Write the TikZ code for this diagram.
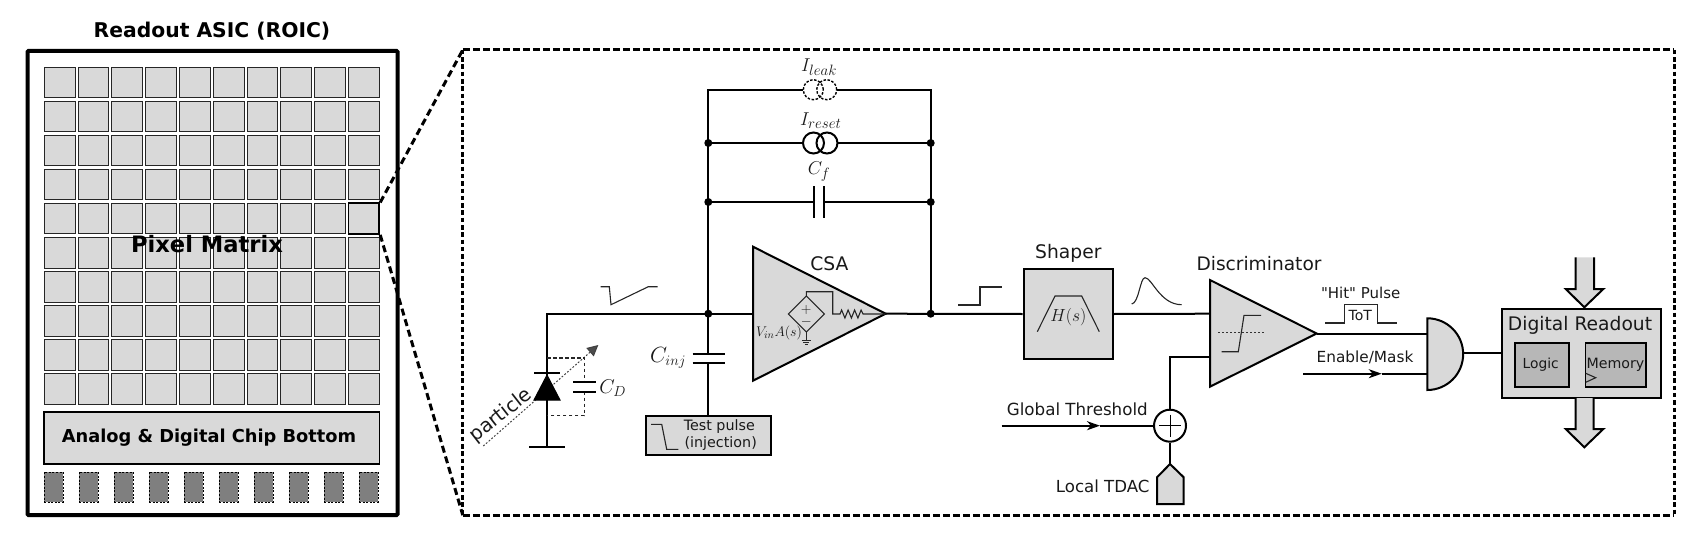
\documentclass[tikz,border=0pt]{standalone}
\usepackage{fix-cm}
\usepackage{fontspec}
\setmainfont{DejaVu Sans}[Ligatures=TeXOff]
\usetikzlibrary{arrows.meta,calc}
\DeclareMathSizes{18.6}{18.6}{15}{12}
\DeclareMathSizes{22}{22}{14.5}{12}
\DeclareMathSizes{20}{20}{14.5}{12}
\DeclareMathSizes{14}{14}{10.5}{8}
\definecolor{fillg}{HTML}{D9D9D9}
\definecolor{fillm}{HTML}{B7B7B7}
\definecolor{padg}{HTML}{7F7F7F}
\newcommand{\fsz}[1]{\fontsize{#1}{#1}\selectfont}
\tikzset{
  wire/.style={line width=2pt,line cap=butt,line join=miter},
  thinw/.style={line width=1.2pt,line join=miter},
  sig/.style={line width=1.1pt,draw=black!85,line join=miter},
  box/.style={draw=black,line width=2pt,fill=fillg,inner sep=0pt},
  inbox/.style={draw=black,line width=1.7pt,fill=fillm,inner sep=0pt},
  pixbox/.style={draw=black!85,line width=1pt,fill=fillg,minimum width=30.8pt,minimum height=30.6pt,inner sep=0pt},
  padbox/.style={draw=black,line width=.9pt,dash pattern=on 2pt off 1.6pt,fill=padg,minimum width=19pt,minimum height=30pt,inner sep=0pt},
  jun/.style={circle,fill=black,minimum size=8pt,inner sep=0pt},
  zoomd/.style={line width=3pt,dash pattern=on 7pt off 4pt},
  lab/.style={inner sep=0pt,text=black!90},
  tri/.style={draw=black,line width=2pt,fill=fillg,line join=miter},
  midtip/.style={-{Stealth[length=13pt,width=9pt,inset=4pt]}},
}
\begin{document}
\begin{tikzpicture}[x=1pt,y=-1pt]
\useasboundingbox (0,0) rectangle (1708,551);
% ROIC
\node[lab,font=\fsz{20.3}\bfseries,text=black] (title) at (212,31) {Readout ASIC (ROIC)};
\node[draw=black,line width=4pt,rounded corners=1pt,minimum width=370pt,minimum height=464pt,inner sep=0pt] (roic) at (212.5,283) {};
\foreach \r in {0,...,9}{\foreach \c in {0,...,9}{
  \node[pixbox] (p-\r-\c) at ({59.7+33.8*\c},{82.5+34.04*\r}) {};
}}
\node[pixbox,draw=black,line width=1.8pt] (hl) at (p-4-9) {};
\node[font=\fsz{22.6}\bfseries,lab,text=black] (pm) at (207,244.4) {Pixel Matrix};
\node[box,line width=1.6pt,minimum width=335.5pt,minimum height=52pt] (bottom) at (211.7,438) {};
\node[font=\fsz{17.8}\bfseries,lab,text=black] (bottomlab) at (209,438) {Analog \& Digital Chip Bottom};
\foreach \c in {0,...,9}{
  \node[padbox] (pad-\c) at ({53.5+35*\c},487) {};
}
% zoom frame
\node[draw=none,minimum width=1211pt,minimum height=465pt,inner sep=0pt] (frame) at (1068.5,282.5) {};
\draw[line width=3pt,dash pattern=on 7pt off 3pt] (frame.north west) -- (frame.north east);
\draw[line width=3pt,dash pattern=on 7pt off 3pt] (frame.south west) -- (frame.south east);
\draw[line width=3pt,dash pattern=on 4.5pt off 2.8pt] (frame.north west) -- (frame.south west);
\draw[line width=3pt,dash pattern=on 4.5pt off 2.8pt] (frame.north east) -- (frame.south east);
\draw[zoomd] (hl.north east) -- (frame.north west);
\draw[zoomd] (hl.south east) -- (frame.south west);
% coordinates
\coordinate (vbase) at (547,447);
\coordinate (vtop) at (547,313.7);
\coordinate (nl) at (708.3,313.7);
\coordinate (nr) at (930.7,313.7);
\coordinate (csain) at (753,313.7);
\coordinate (csaout) at (885.7,313.7);
% feedback
\coordinate (tl) at (708.3,89.7);
\coordinate (tr) at (930.7,89.7);
\coordinate (ll) at (803.3,89.7);
\coordinate (lr) at (836.7,89.7);
\coordinate (rl) at (803,143);
\coordinate (rr) at (837.5,143);
\coordinate (resl) at (708.3,143);
\coordinate (resr) at (930.7,143);
\coordinate (cfl) at (708.3,202);
\coordinate (cfr) at (930.7,202);
\coordinate (cfa) at (814.3,202);
\coordinate (cfb) at (824,202);
\draw[wire] (nl) -- (tl) -- (ll);
\draw[wire] (lr) -- (tr) -- (nr);
\draw[wire] (resl) -- (rl);
\draw[wire] (rr) -- (resr);
\draw[wire] (cfl) -- (cfa);
\draw[wire] (cfb) -- (cfr);
\draw[wire] ($(cfa)+(0,-16)$) -- ($(cfa)+(0,16)$);
\draw[wire] ($(cfb)+(0,-16)$) -- ($(cfb)+(0,16)$);
\draw[line width=1.4pt,dash pattern=on 2.5pt off 1.6pt] (813.3,89.7) circle[radius=10pt];
\draw[line width=1.4pt,dash pattern=on 2.5pt off 1.6pt] (826.7,89.7) circle[radius=10pt];
\draw[line width=2pt] (813.5,143) circle[radius=10.5pt];
\draw[line width=2pt] (827,143) circle[radius=10.5pt];
\node[lab,font=\fsz{18.6}] (ileak) at (819,66.7) {$I_{leak}$};
\node[lab,font=\fsz{18.6}] (ireset) at (820.7,120.7) {$I_{reset}$};
\node[lab,font=\fsz{18.6}] (cf) at (819,172) {$C_f$};
% input and diode
\coordinate (pa) at (483.3,446);
\coordinate (pb) at (598.3,345);
\draw[line width=1pt,draw=black!75,dash pattern=on 1.8pt off 1.8pt,-{Triangle[length=11pt,width=11pt,fill=black!70]}] (pa) -- (pb);
\draw[wire] (vbase) -- (vtop) -- (csain);
\draw[wire] (529.3,447) -- (565,447);
\draw[wire] (534,373.3) -- (560,373.3);
\draw[fill=black,draw=black,line width=1pt] (547,375) -- (560,400) -- (534,400) -- cycle;
\draw[line width=1.1pt,dash pattern=on 3.5pt off 2.5pt,draw=black!85] (547,358) -- (584.3,358) -- (584.3,382);
\draw[line width=1.1pt,dash pattern=on 3.5pt off 2.5pt,draw=black!85] (584.3,391.7) -- (584.3,415.7) -- (547,415.7);
\draw[wire] (573.3,382) -- (596,382);
\draw[wire] (573.3,391.7) -- (596,391.7);
\node[lab,font=\fsz{20}] (cd) at (612.7,388) {$C_D$};
\node[lab,font=\fsz{19.5},rotate=38] (particle) at (501,415.5) {particle};
\draw[sig] (600.7,286.7) -- (609.3,286.7) -- (611,304.7) -- (648.3,286.7) -- (657.7,286.7);
% Cinj
\node[box,line width=1.7pt,minimum width=125pt,minimum height=39.3pt] (tp) at (708.5,435.3) {};
\coordinate (ca) at (708.3,354);
\coordinate (cb) at (708.3,363.3);
\draw[wire] (nl) -- (ca);
\draw[wire] (cb) -- (cb |- tp.north);
\draw[wire] (692.7,354) -- (725,354);
\draw[wire] (692.7,363.3) -- (725,363.3);
\node[lab,font=\fsz{22}] (cinj) at (668,358) {$C_{inj}$};
\node[lab,font=\fsz{14.3}] (tp1) at (719.3,426.5) {Test pulse};
\node[lab,font=\fsz{14.3}] (tp2) at (720.7,444) {(injection)};
\draw[sig] (651,424.3) -- (661.7,424.3) -- (666.7,449.3) -- (678.3,449.3);
% CSA
\draw[tri] (753,246.7) -- (885.7,313.7) -- (753,380.7) -- cycle;
\node[lab,font=\fsz{18.7}] (csa) at (829.3,263.3) {CSA};
\draw[sig] (806.3,296) -- (824.3,314) -- (806.3,332) -- (788.3,314) -- cycle;
\draw[sig] (806.3,296) -- (806.3,291.7) -- (832.7,291.7) -- (832.7,314) -- (840,314)
  -- (841.6,310) -- (844.9,318) -- (848.1,310) -- (851.4,318) -- (854.6,310) -- (857.9,318) -- (861.1,310) -- (863,314) -- (885.7,314);
\draw[sig] (806.3,332) -- (806.3,340);
\draw[sig,line width=.8pt] (801.8,340) -- (810.8,340);
\draw[sig,line width=.8pt] (803.3,342.2) -- (809.3,342.2);
\draw[sig,line width=.8pt] (804.8,344.4) -- (807.8,344.4);
\node[lab,font=\fsz{14}] (plus) at (806.3,309.5) {$+$};
\node[lab,font=\fsz{14}] (minus) at (806.3,322) {$-$};
\node[lab,font=\fsz{14}] (gain) at (779,333) {$V_{in}A(s)$};
% to shaper
\node[box,minimum width=89pt,minimum height=89.4pt] (shaper) at (1068.2,314) {};
\draw[wire] (csaout) -- (shaper.west);
\node[lab,font=\fsz{18.7}] (shaperlab) at (1068.3,253.3) {Shaper};
\draw[sig] (1037.3,331.7) -- (1055,296) -- (1081.7,296) -- (1099.3,331.7);
\node[lab,font=\fsz{17.5}] (hs) at (1068.3,316.7) {$H(s)$};
\draw[sig] (958.3,305) -- (980,305) -- (980,287) -- (1002.3,287);
\draw[sig] (1131.7,304) .. controls (1139,303) and (1140,277.7) .. (1145,277.7)
  .. controls (1152,277.7) and (1160,304.7) .. (1181.7,304.7);
% Discriminator
\coordinate (din) at (1210,313.7);
\coordinate (dth) at (1210,357.3);
\coordinate (dout) at (1316.7,333.5);
\draw[tri] (1210,280) -- (dout) -- (1210,386.7) -- cycle;
\draw[wire] (shaper.east) -- (din);
\node[lab,font=\fsz{18.6}] (disc) at (1259,263.3) {Discriminator};
\draw[line width=.9pt,draw=black!80,dash pattern=on 2pt off 2pt] (1218.3,332.3) -- (1264.3,332.3);
\draw[sig] (1221.7,351.7) -- (1238.3,351.7) -- (1244,315.3) -- (1261,315.3);
\node[draw=black,line width=2pt,fill=white,circle,minimum size=32pt,inner sep=0pt] (sum) at (1170,425.7) {};
\draw[line width=.8pt] (sum.center) ++(-11,0) -- ++(22,0);
\draw[line width=.8pt] (sum.center) ++(0,-11) -- ++(0,22);
\draw[wire] (dth) -- (dth -| sum) -- (sum.north);
\coordinate (gts) at (1001.7,425.7);
\coordinate (gtm) at (1100,425.7);
\draw[wire,midtip] (gts) -- (gtm);
\draw[wire] (gtm) -- (sum.west);
\node[lab,font=\fsz{16.7}] (gtlab) at (1077.3,409.3) {Global Threshold};
\coordinate (tdact) at (1170,464);
\draw[wire] (sum.south) -- (tdact);
\draw[tri,fill=fillg] (tdact) -- (1183.7,477.3) -- (1183.7,504) -- (1157,504) -- (1157,477.3) -- cycle;
\node[lab,font=\fsz{16.6}] (tdaclab) at (1102.7,486.7) {Local TDAC};
% AND gate
\coordinate (gtop) at (1427.3,318.3);
\coordinate (gbot) at (1427.3,390);
\draw[tri] (gtop) arc[start angle=90,end angle=-90,radius=35.85pt] -- cycle;
\coordinate (gi1) at (1427.3,333.5);
\coordinate (gi2) at (1427.3,373.7);
\coordinate (go) at (1463.2,353.3);
\draw[wire] (dout) -- (gi1);
\coordinate (ens) at (1303.3,373.7);
\coordinate (enm) at (1381.7,373.7);
\draw[wire,midtip] (ens) -- (enm);
\draw[wire] (enm) -- (gi2);
\node[lab,font=\fsz{15}] (hit) at (1360.7,293.3) {"Hit" Pulse};
\node[lab,font=\fsz{15.3}] (en) at (1365,357.3) {Enable/Mask};
\draw[sig] (1325,323) -- (1344.3,323) -- (1344.3,304.7) -- (1377.3,304.7) -- (1377.3,323) -- (1396.7,323);
\node[lab,font=\fsz{14}] (tot) at (1360.3,315.7) {ToT};
% Digital readout
\node[box,minimum width=159pt,minimum height=89.3pt] (dig) at (1581.5,353.3) {};
\draw[wire] (go) -- (go -| dig.west);
\node[lab,font=\fsz{18.7}] (diglab) at (1580,325.7) {Digital Readout};
\node[inbox,minimum width=53.4pt,minimum height=44.6pt] (logic) at (1542,365) {};
\node[lab,font=\fsz{13.8}] (logiclab) at (1540.7,364.3) {Logic};
\node[inbox,minimum width=60.7pt,minimum height=44.6pt] (mem) at (1615.7,365) {};
\node[lab,font=\fsz{14.2}] (memlab) at (1615.5,364.3) {Memory};
\draw[sig] (1585.7,373.3) -- (1595.7,377.7) -- (1585.7,382.3);
\draw[tri] (1575.7,257.3) -- (1575.7,289) -- (1565.7,289) -- (1584.3,307.3) -- (1603.3,289) -- (1594,289) -- (1594,257.3);
\draw[tri] (1575.7,398) -- (1575.7,429) -- (1565.7,429) -- (1584.3,447.3) -- (1603.3,429) -- (1593.5,429) -- (1593.5,398);
% junction dots
\foreach \n in {resl,resr,cfl,cfr,nl,nr}{\node[jun] at (\n) {};}
\end{tikzpicture}
\end{document}
